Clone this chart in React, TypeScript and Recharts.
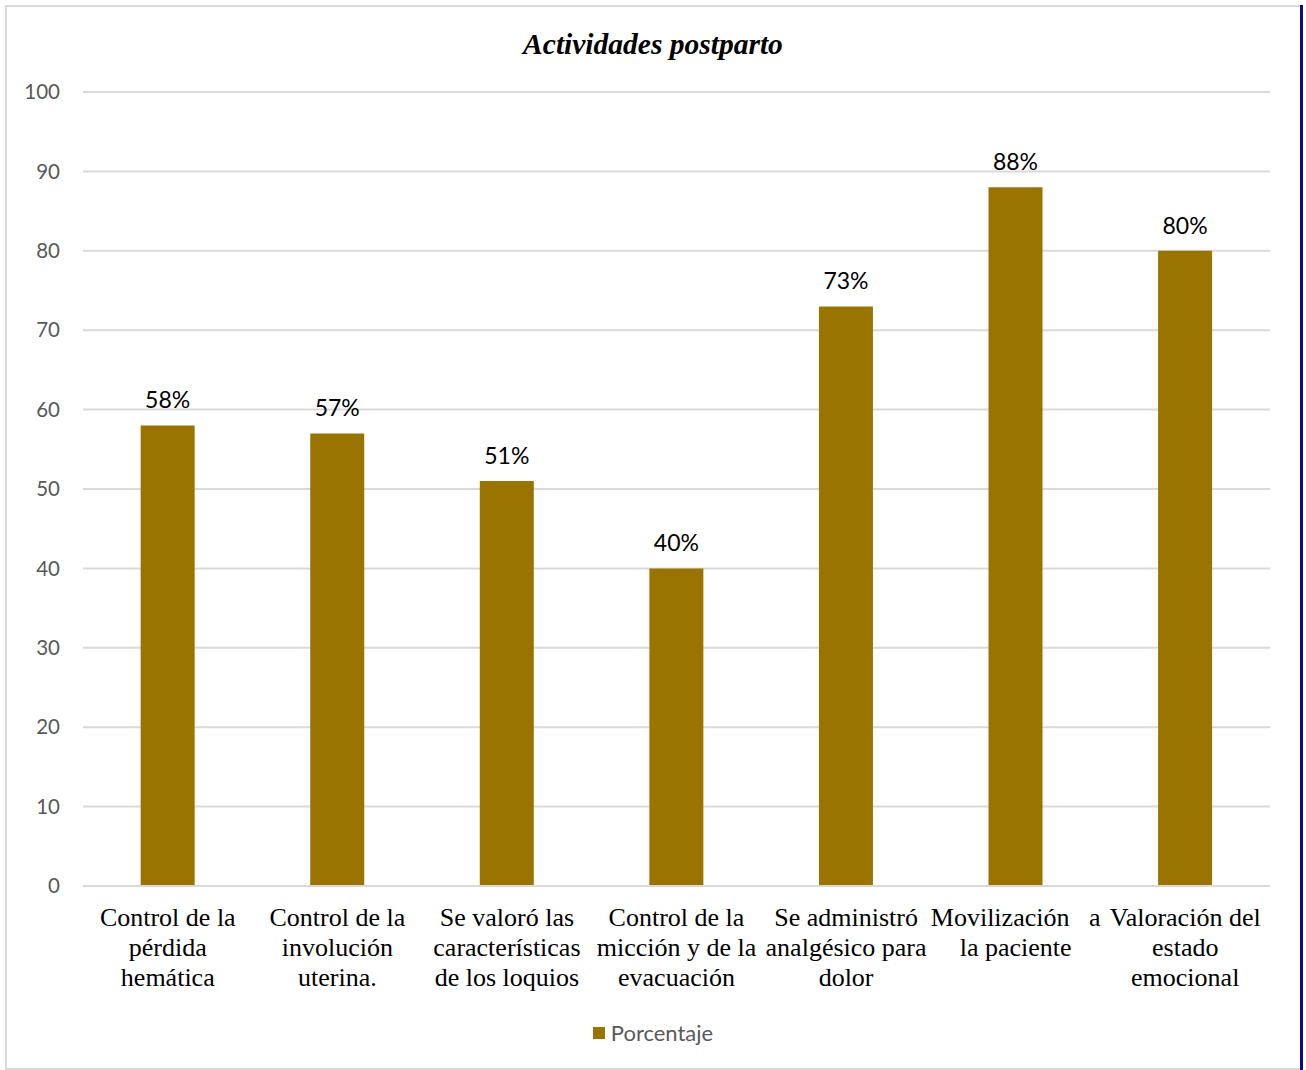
import React from 'react';
import { Bar, BarChart, CartesianGrid, LabelList, Legend, XAxis, YAxis } from 'recharts';

const CATEGORIES = [
  'Control de la\npérdida\nhemática',
  'Control de la\ninvolución\nuterina.',
  'Se valoró las\ncaracterísticas\nde los loquios',
  'Control de la\nmicción y de la\nevacuación',
  'Se administró\nanalgésico para\ndolor',
  'Movilización   a\nla paciente',
  'Valoración del\nestado\nemocional',
];
const PORCENTAJE = [58, 57, 51, 40, 73, 88, 80];
const Y_TICKS = [0, 10, 20, 30, 40, 50, 60, 70, 80, 90, 100];

const BAR_COLOR = '#9A7400';
const GRID = '#d9d9d9';
const SANS = 'Lato, "Open Sans", sans-serif';
const SERIF = '"Liberation Serif", "Times New Roman", serif';

const data = CATEGORIES.map((name, i) => ({ name, value: PORCENTAJE[i] }));

function CategoryTick(props: any) {
  const { x, y, payload } = props;
  const lines = String(payload.value).split('\n');
  return (
    <text
      x={x}
      y={y}
      textAnchor="middle"
      fill="#000"
      fontFamily={SERIF}
      fontSize={26}
      style={{ whiteSpace: 'pre' }}
    >
      {lines.map((line, i) => (
        <tspan key={i} x={x} dy={i === 0 ? 38 : 30}>
          {line}
        </tspan>
      ))}
    </text>
  );
}

function LegendContent() {
  return (
    <div style={{ display: 'flex', justifyContent: 'center', alignItems: 'center', gap: 6 }}>
      <span style={{ width: 12, height: 12, background: BAR_COLOR, display: 'inline-block' }} />
      <span style={{ fontFamily: SANS, fontSize: 22, color: '#595959' }}>Porcentaje</span>
    </div>
  );
}

export default function App() {
  return (
    <div style={{ position: 'relative', width: 1306, height: 1070, background: '#fff' }}>
      <style>{'body{margin:0}'}</style>
      <div
        style={{
          position: 'absolute',
          left: 5,
          top: 5,
          width: 1293,
          height: 1061,
          border: `2px solid ${GRID}`,
        }}
      />
      <div style={{ position: 'absolute', left: 1300, top: 5, width: 3, height: 1065, background: '#0a0a8a' }} />
      <div
        style={{
          position: 'absolute',
          left: 0,
          width: 1306,
          top: 27,
          textAlign: 'center',
          fontFamily: SERIF,
          fontStyle: 'italic',
          fontWeight: 'bold',
          fontSize: 29.5,
          lineHeight: '34px',
          color: '#000',
        }}
      >
        Actividades postparto
      </div>
      <div style={{ position: 'absolute', left: 0, top: 0 }}>
        <BarChart width={1306} height={1070} data={data} margin={{ top: 92, right: 36, bottom: 64, left: 0 }} barCategoryGap="34%">
          <CartesianGrid vertical={false} stroke={GRID} strokeWidth={2} />
          <XAxis
            dataKey="name"
            interval={0}
            height={120}
            tickLine={false}
            tickSize={0}
            axisLine={{ stroke: GRID, strokeWidth: 2 }}
            tick={<CategoryTick />}
          />
          <YAxis
            width={83}
            domain={[0, 100]}
            ticks={Y_TICKS}
            axisLine={false}
            tickLine={false}
            tickSize={0}
            tickMargin={23}
            tick={{ fill: '#595959', fontSize: 20.5, fontFamily: SANS }}
          />
          <Legend
            layout="horizontal"
            verticalAlign="middle"
            content={<LegendContent />}
            wrapperStyle={{ top: 1019, left: 0, width: 1306 }}
          />
          <Bar dataKey="value" name="Porcentaje" fill={BAR_COLOR} isAnimationActive={false}>
            <LabelList
              dataKey="value"
              position="top"
              offset={17}
              formatter={(v: any) => `${v}%`}
              fill="#000"
              fontSize={23}
              fontFamily={SANS}
            />
          </Bar>
        </BarChart>
      </div>
    </div>
  );
}
